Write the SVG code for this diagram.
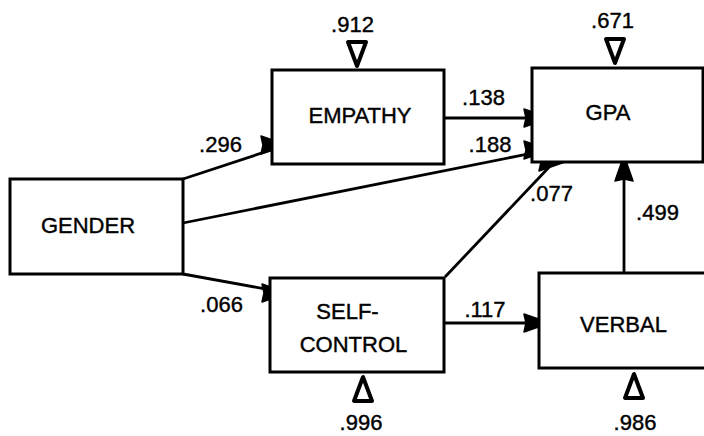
<svg xmlns="http://www.w3.org/2000/svg" xmlns:xlink="http://www.w3.org/1999/xlink" width="704" height="436" viewBox="0 0 704 436">
<style>
.box{fill:#fff;stroke:#000;stroke-width:3}
.t{font-family:"Liberation Sans",Arial,sans-serif;font-size:22px;fill:#000;stroke:#000;stroke-width:0.4;text-anchor:middle}
.ln{stroke:#000;stroke-width:2.8;fill:none}
.ah{fill:#000;stroke:#000;stroke-width:1.5;stroke-linejoin:round}
.err{fill:#fff;stroke:#000;stroke-width:4;stroke-linejoin:round}
</style>
<defs>
<path id="ahR" d="M0,0 L-26,-9 L-24,0 L-26,9 Z"/>
<path id="ahU" d="M0,0 L-9,26 L0,24 L9,26 Z"/>
<path id="errD" d="M-9,0 L9,0 L0,24 Z"/>
<path id="errU" d="M0,0 L-9,24 L9,24 Z"/>
</defs>
<rect width="704" height="436" fill="#fff"/>

<g id="connectors">
  <line class="ln" x1="183" y1="179" x2="280" y2="147"/>
  <use class="ah" xlink:href="#ahR" href="#ahR" x="287" y="145"/>
  <line class="ln" x1="444" y1="118" x2="545" y2="118"/>
  <use class="ah" xlink:href="#ahR" href="#ahR" x="550" y="118"/>
  <line class="ln" x1="183" y1="223" x2="543" y2="151"/>
  <use class="ah" xlink:href="#ahR" href="#ahR" x="550" y="150"/>
  <line class="ln" x1="445" y1="277" x2="553" y2="163"/>
  <use class="ah" xlink:href="#ahR" href="#ahR" x="565" y="162"/>
  <line class="ln" x1="183" y1="274" x2="282" y2="292"/>
  <use class="ah" xlink:href="#ahR" href="#ahR" x="288" y="293"/>
  <line class="ln" x1="444" y1="323" x2="545" y2="323"/>
  <use class="ah" xlink:href="#ahR" href="#ahR" x="550" y="323"/>
  <line class="ln" x1="624" y1="273" x2="624" y2="160"/>
  <use class="ah" xlink:href="#ahU" href="#ahU" x="624" y="155"/>
  <text class="t" x="220.5" y="152">.296</text>
  <text class="t" x="483.5" y="105">.138</text>
  <text class="t" x="490" y="152">.188</text>
  <text class="t" x="551.5" y="201">.077</text>
  <text class="t" x="221.5" y="312">.066</text>
  <text class="t" x="485" y="317">.117</text>
  <text class="t" x="657.5" y="220">.499</text>
</g>

<g id="gender">
  <rect class="box" x="10" y="179" width="173" height="95"/>
  <text class="t" x="88" y="233">GENDER</text>
</g>

<g id="empathy">
  <rect class="box" x="272" y="70" width="172" height="94"/>
  <text class="t" x="360" y="123">EMPATHY</text>
  <use class="err" xlink:href="#errD" href="#errD" x="357" y="42"/>
  <text class="t" x="352.5" y="32">.912</text>
</g>

<g id="gpa">
  <rect class="box" x="532" y="68" width="171" height="94"/>
  <text class="t" x="608" y="120">GPA</text>
  <use class="err" xlink:href="#errD" href="#errD" x="615" y="39"/>
  <text class="t" x="612.5" y="28">.671</text>
</g>

<g id="selfcontrol">
  <rect class="box" x="270" y="278" width="174" height="94"/>
  <text class="t" x="347.5" y="319">SELF-</text>
  <text class="t" x="353.5" y="352">CONTROL</text>
  <use class="err" xlink:href="#errU" href="#errU" x="363" y="377"/>
  <text class="t" x="361" y="430">.996</text>
</g>

<g id="verbal">
  <rect class="box" x="539" y="273" width="170" height="95"/>
  <text class="t" x="623.5" y="332">VERBAL</text>
  <use class="err" xlink:href="#errU" href="#errU" x="634" y="374"/>
  <text class="t" x="635" y="430">.986</text>
</g>
</svg>
